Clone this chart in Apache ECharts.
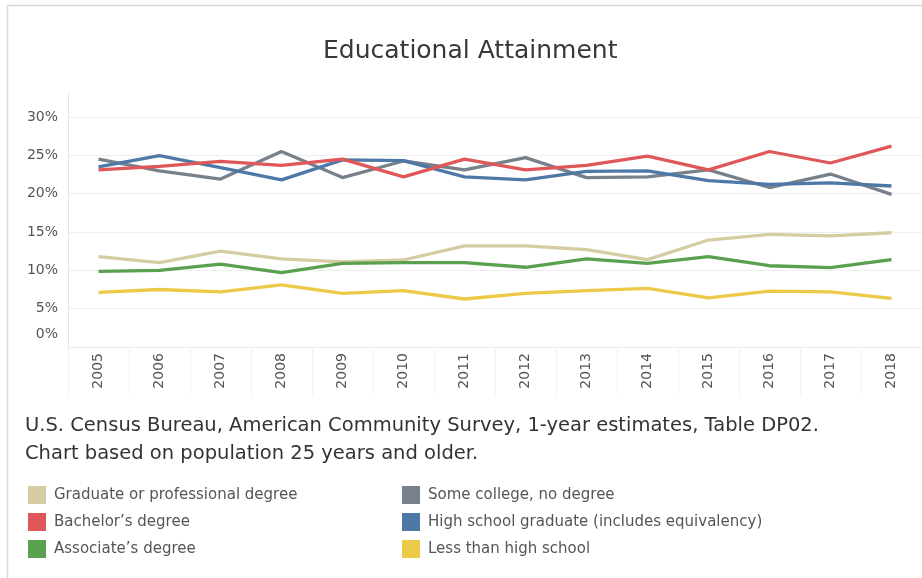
<!DOCTYPE html>
<html>
<head>
<meta charset="utf-8">
<script src="https://cdn.jsdelivr.net/npm/echarts@6/dist/echarts.min.js"></script>
<style>
html,body{margin:0;padding:0;background:#fff;}
#main{width:922px;height:578px;}
</style>
</head>
<body>
<div id="main"></div>
<script>
var years = ['2005','2006','2007','2008','2009','2010','2011','2012','2013','2014','2015','2016','2017','2018'];
var yTicks = [0, 5, 10, 15, 20, 25, 30];
var seriesNames = ['Graduate or professional degree', "Bachelor\u2019s degree", "Associate\u2019s degree",
                   'Some college, no degree', 'High school graduate (includes equivalency)', 'Less than high school'];
var gradValues  = [11.8, 11.0, 12.5, 11.5, 11.1, 11.35, 13.2, 13.2, 12.7, 11.4, 13.95, 14.7, 14.5, 14.9];
var bachValues  = [23.1, 23.55, 24.2, 23.7, 24.5, 22.2, 24.5, 23.1, 23.7, 24.9, 23.1, 25.5, 24.0, 26.2];
var assocValues = [9.87, 10.0, 10.8, 9.7, 10.9, 11.0, 11.0, 10.4, 11.5, 10.9, 11.8, 10.6, 10.35, 11.4];
var someValues  = [24.5, 22.96, 21.9, 25.5, 22.1, 24.26, 23.1, 24.7, 22.1, 22.2, 23.1, 20.8, 22.56, 19.9];
var hsValues    = [23.5, 24.95, 23.4, 21.8, 24.4, 24.3, 22.2, 21.8, 22.9, 22.96, 21.7, 21.2, 21.4, 21.0];
var lessValues  = [7.13, 7.5, 7.2, 8.1, 7.0, 7.35, 6.26, 7.0, 7.35, 7.65, 6.4, 7.3, 7.2, 6.35];
var sourceLines = ['U.S. Census Bureau, American Community Survey, 1-year estimates, Table DP02.',
                   'Chart based on population 25 years and older.'];

var colors = ['#d5cca2', '#e05759', '#59a14f', '#78808b', '#4e79a7', '#edc948'];
var allValues = [gradValues, bachValues, assocValues, someValues, hsValues, lessValues];
var FONT = '"DejaVu Sans", "Open Sans", sans-serif';

var chart = echarts.init(document.getElementById('main'), null, {renderer: 'canvas'});

var drawOrder = [0, 2, 5, 3, 4, 1];
var series = drawOrder.map(function (i) {
  return {
    name: seriesNames[i],
    type: 'line',
    data: allValues[i],
    symbol: 'none',
    lineStyle: {width: 3.3, color: colors[i]},
    itemStyle: {color: colors[i]},
    z: 3
  };
});

function legendItems(idx) {
  return idx.map(function (i) { return {name: seriesNames[i], itemStyle: {color: colors[i]}}; });
}

chart.setOption({
  animation: false,
  backgroundColor: '#fff',
  title: {
    text: 'Educational Attainment',
    left: 318,
    top: 34,
    textStyle: {fontFamily: FONT, fontSize: 25, fontWeight: 'normal', color: '#383838'}
  },
  grid: {left: 68, right: 0, top: 117, bottom: 231, containLabel: false},
  xAxis: {
    type: 'category',
    data: years,
    boundaryGap: true,
    axisLine: {show: true, lineStyle: {color: '#ececec', width: 1}},
    axisTick: {show: true, length: 48, lineStyle: {color: '#f2f2f2'}},
    axisLabel: {rotate: 90, margin: 6, fontFamily: FONT, fontSize: 14, color: '#555'}
  },
  yAxis: {
    type: 'value',
    min: 0,
    max: 30,
    interval: 5,
    axisLine: {show: true, lineStyle: {color: '#e6e6e6'}},
    axisTick: {show: false},
    splitLine: {show: true, lineStyle: {color: '#eeeeee', width: 1}},
    axisLabel: {
      margin: 10,
      fontFamily: FONT, fontSize: 14, color: '#555',
      formatter: function (v) { return v === yTicks[0] ? '{z|' + v + '%}' : v + '%'; },
      rich: {z: {fontFamily: FONT, fontSize: 14, color: '#555', padding: [0, 0, 26, 0]}}
    }
  },
  legend: [
    {
      data: legendItems([0, 1, 2]),
      orient: 'vertical', left: 23, top: 481,
      icon: 'rect', itemWidth: 18, itemHeight: 18, itemGap: 9,
      selectedMode: false,
      textStyle: {fontFamily: FONT, fontSize: 15, color: '#555', padding: [0, 0, 0, 3]}
    },
    {
      data: legendItems([3, 4, 5]),
      orient: 'vertical', left: 397, top: 481,
      icon: 'rect', itemWidth: 18, itemHeight: 18, itemGap: 9,
      selectedMode: false,
      textStyle: {fontFamily: FONT, fontSize: 15, color: '#555', padding: [0, 0, 0, 3]}
    }
  ],
  graphic: [
    {type: 'line', shape: {x1: 7, y1: 5.5, x2: 922, y2: 5.5}, style: {stroke: '#d9d9d9', lineWidth: 1.5}, silent: true},
    {type: 'line', shape: {x1: 7.5, y1: 5, x2: 7.5, y2: 578}, style: {stroke: '#d9d9d9', lineWidth: 1.5}, silent: true},
    {type: 'line', shape: {x1: 68.5, y1: 92, x2: 68.5, y2: 117}, style: {stroke: '#e6e6e6', lineWidth: 1}, silent: true},
    {type: 'text', left: 25, top: 416, style: {text: sourceLines[0], font: '19.5px ' + FONT, fill: '#333'}},
    {type: 'text', left: 25, top: 444, style: {text: sourceLines[1], font: '19.5px ' + FONT, fill: '#333'}}
  ],
  series: series
});
</script>
</body>
</html>
